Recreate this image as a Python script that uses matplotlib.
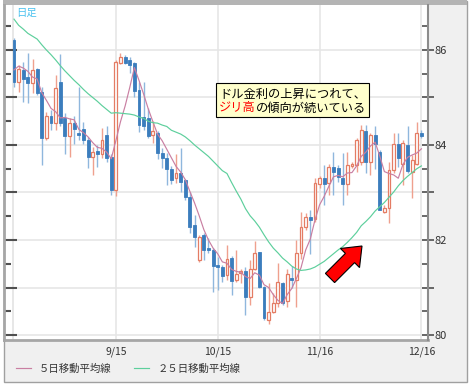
import matplotlib
matplotlib.use("Agg")
import matplotlib.pyplot as plt
import numpy as np
import pandas as pd
from matplotlib.patches import Rectangle, FancyArrow
from matplotlib.text import Annotation
from matplotlib.ticker import MultipleLocator, FuncFormatter

plt.rcParams["font.family"] = ["Noto Sans CJK JP", "DejaVu Sans"]

# USD/JPY daily candles, 2010-08-16 .. 2010-12-16
dates = pd.bdate_range("2010-08-16", "2010-12-16")

opens = [86.22, 85.33, 85.58, 85.44, 85.31, 85.59, 85.12, 84.14, 84.60, 84.46,
         85.33, 84.56, 84.18, 84.46, 84.26, 84.33, 84.10, 83.75, 83.87, 83.82,
         84.21, 83.75, 83.05, 85.73, 85.85, 85.78, 85.72, 85.16, 84.58, 84.56,
         84.22, 84.25, 83.83, 83.72, 83.50, 83.30, 83.42, 83.26, 82.91, 82.32,
         81.58, 82.10, 81.83, 81.79, 81.46, 81.44, 81.26, 81.63, 81.16, 81.30,
         81.35, 80.79, 81.40, 81.74, 81.02, 80.32, 80.49, 80.67, 81.09, 80.72,
         81.21, 81.16, 81.72, 82.28, 82.49, 82.45, 83.18, 83.30, 83.19, 83.54,
         83.52, 83.30, 83.17, 83.55, 83.58, 83.65, 84.30, 83.65, 84.21, 83.86,
         82.60, 82.67, 83.47, 84.03, 83.60, 84.00, 83.44, 83.61, 84.25]
highs = [86.25, 85.68, 85.75, 85.94, 85.80, 85.62, 85.23, 84.70, 84.74, 85.47,
         85.92, 84.67, 84.56, 84.60, 85.23, 84.49, 84.17, 83.96, 84.00, 84.35,
         84.39, 83.80, 85.79, 85.93, 85.90, 85.86, 85.75, 85.33, 85.33, 84.77,
         84.50, 84.30, 83.94, 83.83, 83.55, 83.82, 83.94, 83.28, 83.02, 82.53,
         82.10, 82.14, 82.04, 81.83, 81.65, 81.47, 81.90, 81.66, 81.79, 81.40,
         81.44, 81.58, 81.97, 81.75, 81.03, 81.09, 80.88, 81.52, 81.12, 81.40,
         81.45, 82.00, 82.60, 82.56, 82.63, 83.30, 83.35, 83.58, 83.60, 83.86,
         83.58, 83.83, 83.86, 83.65, 84.14, 84.42, 84.42, 84.25, 84.39, 83.90,
         82.74, 83.65, 84.25, 84.25, 84.10, 84.39, 83.79, 84.49, 84.32]
lows = [85.22, 85.12, 84.91, 84.88, 85.09, 85.05, 83.58, 84.10, 84.32, 84.32,
        84.39, 83.82, 83.75, 84.03, 84.10, 84.03, 83.51, 83.37, 83.54, 83.72,
        83.65, 82.95, 82.93, 85.70, 85.70, 85.51, 85.02, 84.28, 84.32, 84.14,
        84.05, 83.70, 83.51, 83.16, 83.17, 83.19, 83.02, 82.84, 82.14, 81.86,
        81.54, 81.58, 81.72, 80.91, 80.95, 81.12, 81.16, 80.84, 81.12, 81.10,
        80.42, 80.63, 81.37, 81.00, 80.32, 80.24, 80.46, 80.60, 80.63, 80.60,
        81.00, 80.60, 81.60, 82.21, 81.70, 82.38, 83.10, 82.74, 82.95, 82.95,
        83.23, 82.74, 82.95, 83.51, 83.44, 83.58, 83.42, 83.37, 83.50, 82.63,
        82.56, 82.35, 83.40, 83.54, 83.16, 83.40, 82.88, 83.58, 84.14]
closes = [85.33, 85.59, 85.38, 85.30, 85.57, 85.09, 84.14, 84.60, 84.46, 85.19,
          84.46, 84.18, 84.47, 84.33, 84.21, 84.10, 83.75, 83.86, 83.82, 84.10,
          83.72, 83.05, 85.75, 85.85, 85.73, 85.68, 85.14, 84.42, 84.39, 84.19,
          84.30, 83.84, 83.72, 83.50, 83.27, 83.42, 83.23, 82.91, 82.28, 82.06,
          82.06, 81.80, 81.79, 81.45, 81.44, 81.24, 81.61, 81.14, 81.28, 81.35,
          80.79, 81.40, 81.72, 81.02, 80.35, 80.49, 80.67, 81.12, 80.67, 81.28,
          81.16, 81.72, 82.28, 82.49, 82.43, 83.20, 83.30, 83.17, 83.54, 83.44,
          83.33, 83.17, 83.58, 83.60, 84.11, 84.32, 83.65, 84.21, 84.03, 82.63,
          82.67, 83.47, 84.03, 83.72, 84.05, 83.45, 83.68, 84.25, 84.18]

ma5 = [85.58, 85.66, 85.62, 85.55, 85.43, 85.39, 85.10, 84.94, 84.77, 84.70,
       84.57, 84.58, 84.55, 84.53, 84.33, 84.26, 84.17, 84.05, 83.95, 83.93,
       83.85, 83.71, 84.09, 84.49, 84.82, 85.21, 85.63, 85.36, 85.07, 84.76,
       84.49, 84.23, 84.09, 83.91, 83.73, 83.55, 83.43, 83.27, 83.02, 82.78,
       82.51, 82.22, 82.00, 81.83, 81.71, 81.54, 81.51, 81.38, 81.34, 81.32,
       81.23, 81.19, 81.31, 81.26, 81.06, 81.00, 80.85, 80.73, 80.66, 80.85,
       80.98, 81.19, 81.42, 81.79, 82.02, 82.42, 82.74, 82.92, 83.13, 83.33,
       83.36, 83.33, 83.41, 83.42, 83.56, 83.76, 83.85, 83.98, 84.06, 83.77,
       83.44, 83.40, 83.37, 83.30, 83.59, 83.74, 83.79, 83.83, 83.92]
ma25 = [86.65, 86.52, 86.44, 86.35, 86.29, 86.23, 86.11, 86.00, 85.90, 85.79,
        85.67, 85.56, 85.46, 85.36, 85.27, 85.17, 85.08, 85.00, 84.92, 84.83,
        84.75, 84.67, 84.68, 84.67, 84.66, 84.65, 84.63, 84.59, 84.56, 84.50,
        84.47, 84.46, 84.42, 84.39, 84.31, 84.27, 84.23, 84.17, 84.09, 84.00,
        83.92, 83.84, 83.76, 83.66, 83.56, 83.46, 83.40, 83.21, 83.03, 82.86,
        82.66, 82.51, 82.40, 82.27, 82.11, 81.96, 81.83, 81.73, 81.62, 81.54,
        81.45, 81.39, 81.36, 81.37, 81.39, 81.43, 81.49, 81.55, 81.63, 81.71,
        81.79, 81.86, 81.95, 82.05, 82.16, 82.30, 82.39, 82.49, 82.61, 82.70,
        82.79, 82.90, 83.01, 83.14, 83.25, 83.34, 83.42, 83.50, 83.56]

tick_dates = ["2010-09-15", "2010-10-15", "2010-11-16", "2010-12-16"]
legend_labels = ["５日移動平均線", "２５日移動平均線"]
note_line1 = "ドル金利の上昇につれて、"
note_red = "ジリ高"
note_rest = "の傾向が続いている"

UP, UP_WICK = "#e47c64", "#efa08e"
DN, DN_WICK = "#3b7dbd", "#8fb7dd"
MA5_COLOR, MA25_COLOR = "#c97fa2", "#5dcf9c"

W, H = 473, 386


def fx(px):
    return px / W


def fy(py):
    return 1 - py / H


fig = plt.figure(figsize=(W / 100, H / 100), dpi=100, facecolor="white")

# outer frame
fig.add_artist(Rectangle((fx(3.5), fy(381.5)), 463 / W, 380.5 / H,
                         transform=fig.transFigure, facecolor="#f0f0f0",
                         edgecolor="#a0a0a0", lw=1, zorder=-2))
fig.add_artist(Rectangle((fx(3), fy(5)), 464 / W, 4.5 / H,
                         transform=fig.transFigure, facecolor="#b4b4b4",
                         edgecolor="none", zorder=-1))

ax = fig.add_axes([fx(4), fy(340), (428 - 4) / W, (340 - 5) / H])
ax.set_facecolor("white")

x = np.arange(len(dates))
o = np.array(opens)
h = np.array(highs)
l = np.array(lows)
c = np.array(closes)
up = c >= o
body_low = np.minimum(o, c)
body_h = np.maximum(np.abs(c - o), 0.025)

ax.vlines(x[up], l[up], h[up], color=UP_WICK, lw=1, zorder=2)
ax.vlines(x[~up], l[~up], h[~up], color=DN_WICK, lw=1, zorder=2)
ax.bar(x[up], body_h[up], bottom=body_low[up], width=0.62,
       facecolor="white", edgecolor=UP, lw=0.9, zorder=3)
ax.bar(x[~up], body_h[~up], bottom=body_low[~up], width=0.62,
       facecolor=DN, edgecolor=DN, lw=0.6, zorder=3)

l5, = ax.plot(x, ma5, color=MA5_COLOR, lw=0.85, zorder=4)
l25, = ax.plot(x, ma25, color=MA25_COLOR, lw=0.85, zorder=4)

ax.set_xlim(-2.16, 89.42)
ax.set_ylim(79.895, 86.947)

# date ticks
tick_idx = [dates.get_loc(pd.Timestamp(d)) for d in tick_dates]
ax.set_xticks(tick_idx)
ax.set_xticklabels([f"{dates[i].month}/{dates[i].day}" for i in tick_idx])
ax.tick_params(axis="x", length=0, pad=5, labelsize=7.5, labelcolor="#333333")
ax.axvline(-0.25, color="#e3e3e3", lw=1.2, zorder=0.5)

ax.yaxis.set_major_locator(MultipleLocator(1))
ax.yaxis.set_minor_locator(MultipleLocator(0.5))
ax.tick_params(axis="y", which="both", direction="in", left=True,
               right=False, labelleft=False, color="#505050", width=1.5)
ax.tick_params(axis="y", which="major", length=9)
ax.tick_params(axis="y", which="minor", length=5)

ax.grid(axis="both", which="major", color="#e6e6e6", lw=1.2)
ax.set_axisbelow(True)

for side in ("top", "right"):
    ax.spines[side].set_visible(False)
for side in ("left", "bottom"):
    ax.spines[side].set_color("#a6a6a6")
    ax.spines[side].set_linewidth(2)

# right price scale
ax2 = ax.twinx()
ax2.set_ylim(ax.get_ylim())
ax2.yaxis.set_major_locator(MultipleLocator(1))
ax2.yaxis.set_minor_locator(MultipleLocator(0.5))
ax2.yaxis.set_major_formatter(
    FuncFormatter(lambda v, p: f"{v:.0f}" if round(v) % 2 == 0 else ""))
ax2.tick_params(axis="y", which="major", direction="inout", length=8,
                width=1.2, color="#505050", pad=1, labelsize=8,
                labelcolor="#333333")
ax2.tick_params(axis="y", which="minor", direction="in", length=4,
                width=1.2, color="#505050")
for side in ("top", "left", "bottom"):
    ax2.spines[side].set_visible(False)
ax2.spines["right"].set_color("#8c8c8c")
ax2.spines["right"].set_linewidth(1.5)

fig.text(fx(16), fy(13), "日足", color="#4cc2ef", fontsize=7.5,
         ha="left", va="center")

# note box
fig.add_artist(Rectangle((fx(216), fy(117)), 153 / W, 34 / H,
                         transform=fig.transFigure, facecolor="#ffffcc",
                         edgecolor="black", lw=0.8, zorder=4))
fig.text(fx(219), fy(94), note_line1, fontsize=8.8, ha="left", va="center",
         zorder=5)
t_red = fig.text(fx(219), fy(108), note_red, fontsize=8.8, color="red",
                 ha="left", va="center", zorder=5)
fig.add_artist(Annotation(note_rest, xy=(1, 0.5), xycoords=t_red,
                          fontsize=8.8, ha="left", va="center", zorder=5))

fig.add_artist(FancyArrow(3.30, 1.08, 0.32, 0.32, width=0.13,
                          head_width=0.27, head_length=0.17,
                          length_includes_head=True,
                          transform=fig.dpi_scale_trans, facecolor="#ff0000",
                          edgecolor="black", lw=0.8, zorder=5))

leg = fig.legend(handles=[l5, l25], labels=legend_labels, loc="center left",
                 bbox_to_anchor=(fx(16), fy(369)), ncol=2, frameon=False,
                 fontsize=7.5, handlelength=1.4, handletextpad=0.8,
                 columnspacing=2.2, borderaxespad=0, borderpad=0)
for t in leg.get_texts():
    t.set_color("#333333")

fig.savefig("out.png", dpi=100)
